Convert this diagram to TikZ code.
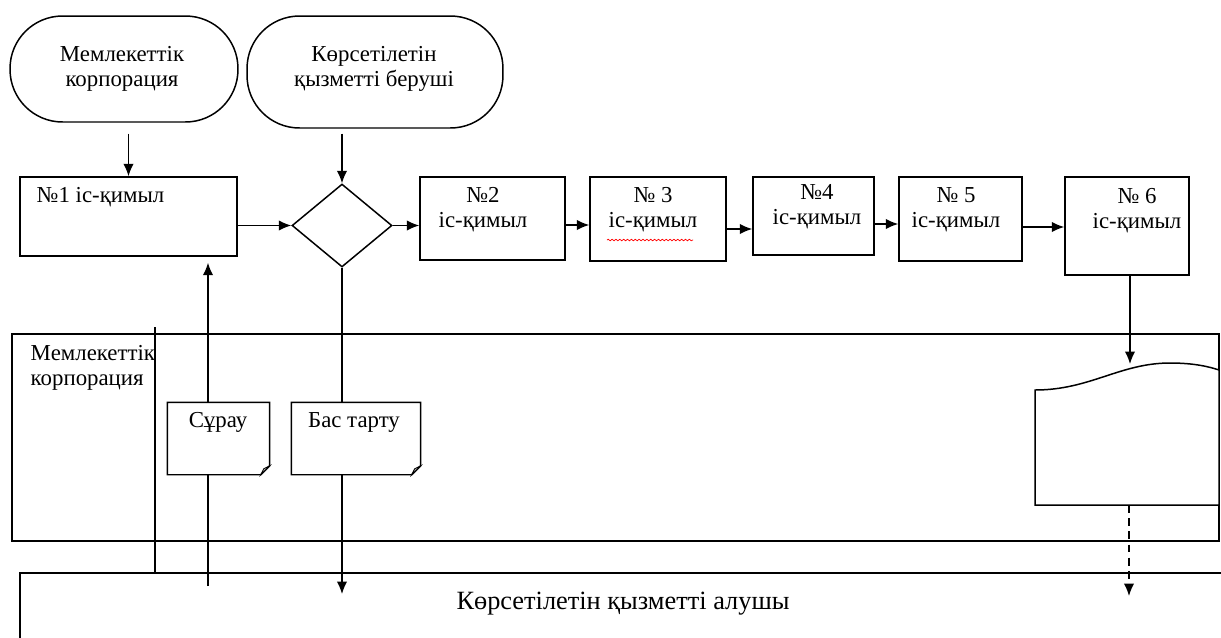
\documentclass[tikz,border=0pt]{standalone}
\usepackage{fontspec}
\setmainfont{Liberation Serif}
\usetikzlibrary{shapes.geometric,arrows.meta,decorations.pathmorphing}
\newcommand{\boxFont}{\fontsize{13}{14.2}\selectfont}
\newcommand{\laneFont}{\fontsize{15}{17}\selectfont}
\newcommand{\actName}{іс-қимыл}
\newcommand{\corpName}{Мемлекеттік\\корпорация}
\newcommand{\foldSize}{0.18cm}

\tikzset{
	terminal/.style={draw, rounded corners=1.05cm, inner sep=0pt},
	stepbox/.style={draw, rectangle, inner sep=0pt},
	decision/.style={draw, diamond, aspect=1.2, inner sep=0pt, minimum width=2cm, minimum height=1.66cm},
	paper/.style={rectangle, inner sep=0pt},
	caption/.style={font=\boxFont, align=center, inner sep=0pt},
	flow/.style={-{Latex[length=2.5mm,width=2.1mm]}},
}

\begin{document}
\begin{tikzpicture}[x=0.02cm, y=-0.02cm, line width=0.85pt]
	\useasboundingbox (0,0) rectangle (1221,637);

	% swimlanes
	\draw (12,334) rectangle (1219,541);
	\draw (20,640) -- (20,573) -- (1225,573);
	\draw (155,327) -- (155,573);
	\node[caption, align=left, anchor=west] (laneCorp) at (30,367.5) {\corpName};
	\node[caption, font=\laneFont] (laneUser) at (623,604) {Көрсетілетін қызметті алушы};

	% start terminals
	\node[terminal, minimum width=4.56cm, minimum height=2.12cm] (corpTop) at (124,69) {};
	\node[caption] at (122,69) {\corpName};
	\node[terminal, minimum width=5.12cm, minimum height=2.24cm] (provTop) at (375,72) {};
	\node[caption] at (374,69) {Көрсетілетін\\қызметті беруші};

	% actions
	\node[stepbox, minimum width=4.34cm, minimum height=1.58cm] (box1) at (128.5,216.5) {};
	\node[caption, anchor=west] at (36,197) {№1 \actName};
	\node[decision] (check) at (342,225.5) {};
	\foreach \boxName/\cx/\cy/\bw/\bh/\tx/\ty/\num in {box2/492.5/218.5/2.90/1.66/483/210/№2, box3/658/219/2.72/1.68/653/210/№ 3, box4/813.5/216/2.42/1.56/817/207/№4, box5/960.5/219/2.46/1.68/956/210/№ 5, box6/1127/226/2.48/1.96/1137/211/№ 6}
	{
		\node[stepbox, minimum width=\bw cm, minimum height=\bh cm] (\boxName) at (\cx,\cy) {};
		\node[caption] at (\tx,\ty) {\num\\\actName};
	}
	\draw[red, line width=0.4pt, decorate, decoration={snake, amplitude=0.45pt, segment length=2.2pt}] (607,240) -- (693,240);

	% connectors
	\draw[flow, shorten <=0.22cm] (corpTop.south -| box1.north) -- (box1.north);
	\draw[flow, shorten <=0.1cm] (provTop.south -| check.north) -- (check.north);
	\draw[flow] (box1.east |- check.west) -- (check.west);
	\draw[flow] (check.east) -- (check.east -| box2.west);
	\draw[flow] ([yshift=-0.13cm]box2.east) -- ([yshift=-0.13cm]box2.east -| box3.west);
	\draw[flow] ([yshift=-0.2cm]box3.east) -- ([yshift=-0.2cm]box3.east -| box4.west);
	\draw[flow] ([yshift=-0.16cm]box4.east) -- ([yshift=-0.16cm]box4.east -| box5.west);
	\draw[flow] ([yshift=-0.16cm]box5.east) -- ([yshift=-0.16cm]box5.east -| box6.west);

	\coordinate (reqFoot) at (208,586);
	\coordinate (rejectTip) at (342,594);
	\coordinate (resultTip) at (1130,364);
	\coordinate (resultFoot) at (1129,505);
	\coordinate (userTip) at (1129,596);
	\draw[flow, shorten >=0.12cm] (reqFoot) -- (box1.south -| reqFoot);
	\draw[flow] (check.south) -- (check.south |- rejectTip);
	\draw[flow] (box6.south -| resultTip) -- (resultTip);
	\draw[flow, dash pattern=on 4.5pt off 3pt] (resultFoot) -- (userTip);

	% documents
	\foreach \docName/\cx/\bw/\tx/\txt in {request/218.5/2.02/218/Сұрау, reject/356/2.56/354/Бас тарту}
	{
		\node[paper, minimum width=\bw cm, minimum height=1.42cm] (\docName) at (\cx,438.5) {};
		\draw[fill=white] (\docName.north west) -- (\docName.north east) -- ([yshift=\foldSize]\docName.south east) -- ([xshift=-\foldSize]\docName.south east) -- (\docName.south west) -- cycle;
		\draw[fill=gray!60, line width=0.5pt] ([xshift=-\foldSize]\docName.south east) -- ([xshift=-0.12cm, yshift=0.12cm]\docName.south east) -- ([yshift=\foldSize]\docName.south east) -- cycle;
		\node[caption] at (\tx,422) {\txt};
	}
	\draw[fill=white] (resultFoot -| 1035,0) -- (1035,390) .. controls (1090,390) and (1120,363) .. (1170,363) .. controls (1195,363) and (1210,367) .. (1219,370) -- (1219,505) -- cycle;
\end{tikzpicture}
\end{document}
